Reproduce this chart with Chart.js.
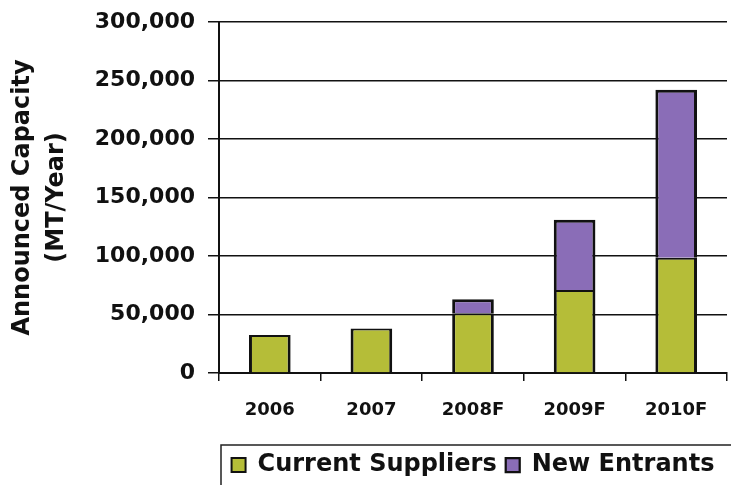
<!DOCTYPE html>
<html>
<head>
<meta charset="utf-8">
<script src="https://cdn.jsdelivr.net/npm/chart.js@4"></script>
<style>
  html, body { margin: 0; padding: 0; background: #fff; }
  #wrap { width: 731px; height: 485px; }
</style>
</head>
<body>
<div id="wrap"><canvas id="capChart"></canvas></div>
<script>
const years = ["2006", "2007", "2008F", "2009F", "2010F"];
const currentSuppliers = [32500, 38000, 51000, 71000, 98500];
const newEntrants = [null, null, 12000, 60000, 143500];
const yTicks = [0, 50000, 100000, 150000, 200000, 250000, 300000];

const green = "#b5bd38";
const purple = "#8a6db7";
const font = "'DejaVu Sans', sans-serif";

// frame around the legend, open to the right and bottom like the scan
const legendFrame = {
    id: "legendFrame",
    afterDraw(chart) {
        const ctx = chart.ctx;
        const lg = chart.legend;
        ctx.save();
        ctx.strokeStyle = "#222";
        ctx.lineWidth = 1.5;
        ctx.beginPath();
        ctx.moveTo(lg.left + 2, chart.height + 2);
        ctx.lineTo(lg.left + 2, lg.top + 1);
        ctx.lineTo(chart.width + 2, lg.top + 1);
        ctx.stroke();
        ctx.restore();
    }
};

new Chart(document.getElementById("capChart"), {
    type: "bar",
    data: {
        labels: years,
        datasets: [
            {
                label: "Current Suppliers",
                data: currentSuppliers,
                backgroundColor: green,
                borderColor: "#111",
                borderWidth: { left: 3, right: 3, top: 2, bottom: 0 }
            },
            {
                label: "New Entrants",
                data: newEntrants,
                backgroundColor: purple,
                borderColor: "#111",
                borderWidth: { left: 3, right: 3, top: 3, bottom: 0 }
            }
        ]
    },
    plugins: [legendFrame],
    options: {
        responsive: true,
        maintainAspectRatio: false,
        animation: false,
        layout: { padding: { top: 22, right: 4, bottom: -2, left: 0 } },
        datasets: {
            bar: { categoryPercentage: 1, barPercentage: 0.41 }
        },
        plugins: {
            tooltip: { enabled: false },
            legend: {
                position: "bottom",
                fullSize: false,
                labels: {
                    color: "#111",
                    boxWidth: 14,
                    boxHeight: 14,
                    padding: 9,
                    font: { family: font, size: 24, weight: "bold" }
                }
            }
        },
        scales: {
            x: {
                stacked: true,
                afterFit: s => { s.height = 71; },
                grid: {
                    drawOnChartArea: false,
                    drawTicks: true,
                    tickLength: 8,
                    color: "#111",
                    lineWidth: 1.5
                },
                border: { color: "#111", width: 2 },
                ticks: {
                    color: "#111",
                    padding: 19,
                    font: { family: font, size: 18, weight: "bold" }
                }
            },
            y: {
                stacked: true,
                min: 0,
                max: 300000,
                afterFit: s => { s.width = 219; s.paddingTop = 0; },
                afterBuildTicks: s => { s.ticks = yTicks.map(v => ({ value: v })); },
                grid: {
                    color: "#111",
                    lineWidth: 1.5,
                    tickLength: 11
                },
                border: { color: "#111", width: 2 },
                ticks: {
                    color: "#111",
                    padding: 13,
                    font: { family: font, size: 22, weight: "bold" },
                    callback: v => v.toLocaleString("en-US")
                },
                title: {
                    display: true,
                    text: ["Announced Capacity", "(MT/Year)"],
                    color: "#111",
                    padding: { top: 5, bottom: 0 },
                    font: { family: font, size: 24, weight: "bold", lineHeight: 1.45 }
                }
            }
        }
    }
});
</script>
</body>
</html>
